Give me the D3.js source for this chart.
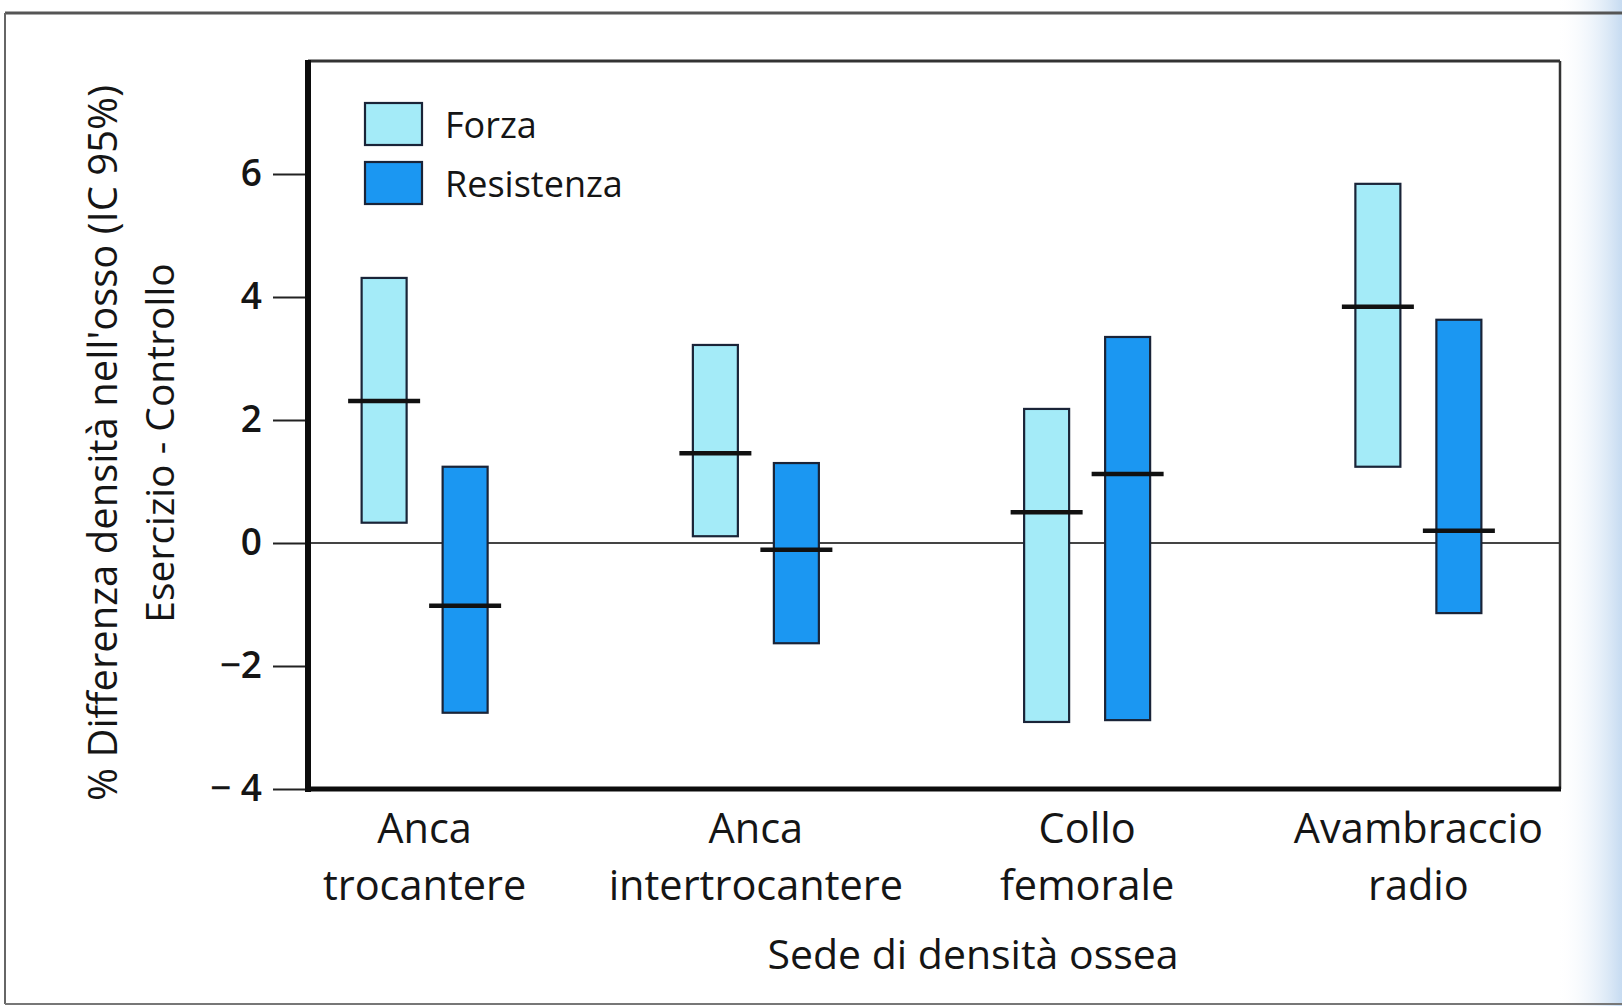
<!DOCTYPE html>
<html lang="it">
<head>
<meta charset="utf-8">
<title>Densità ossea: esercizio vs controllo</title>
<script src="https://cdn.jsdelivr.net/npm/d3@7"></script>
<style>
  html, body { margin: 0; padding: 0; background: #ffffff; }
  svg { display: block; }
  text { font-family: "Open Sans", "Lato", sans-serif; fill: #151515; font-weight: 500; }
</style>
</head>
<body>
<svg id="chart" width="1622" height="1006"></svg>
<script>
// Sedi di misura (due righe per etichetta)
const categories = ["trocantere", "intertrocantere", "collo", "radio"];
const categoryLine1 = ["Anca", "Anca", "Collo", "Avambraccio"];
const categoryLine2 = ["trocantere", "intertrocantere", "femorale", "radio"];

const seriesNames = ["Forza", "Resistenza"];

// Intervallo di confidenza al 95% e stima puntuale (% differenza)
const forzaLow  = [0.33, 0.11, -2.91, 1.24];
const forzaHigh = [4.31, 3.22, 2.18, 5.84];
const forzaMean = [2.31, 1.46, 0.50, 3.84];

const resistenzaLow  = [-2.76, -1.63, -2.88, -1.14];
const resistenzaHigh = [1.24, 1.30, 3.35, 3.63];
const resistenzaMean = [-1.02, -0.11, 1.12, 0.20];

const yTickValues = [6, 4, 2, 0, -2, -4];
const yTickLabels = ["6", "4", "2", "0", "\u22122", "\u2212 4"];

const colors = { "Forza": "#a4ebf8", "Resistenza": "#1b97f2" };

// Tabella delle barre costruita dagli array
const bars = [];
categories.forEach((c, i) => {
  bars.push({ cat: c, series: "Forza", low: forzaLow[i], high: forzaHigh[i], mean: forzaMean[i] });
  bars.push({ cat: c, series: "Resistenza", low: resistenzaLow[i], high: resistenzaHigh[i], mean: resistenzaMean[i] });
});

const svg = d3.select("#chart");

// Cornice esterna della pagina e sfumatura sul bordo destro
const defs = svg.append("defs");
const grad = defs.append("linearGradient").attr("id", "edgeFade")
  .attr("x1", "0%").attr("x2", "100%").attr("y1", "0%").attr("y2", "0%");
grad.append("stop").attr("offset", "0%").attr("stop-color", "#ffffff").attr("stop-opacity", 0);
grad.append("stop").attr("offset", "100%").attr("stop-color", "#c6dbf1").attr("stop-opacity", 1);

svg.append("rect").attr("x", 1556).attr("y", 0).attr("width", 66).attr("height", 1006)
  .attr("fill", "url(#edgeFade)");
svg.append("line").attr("x1", 5).attr("x2", 1622).attr("y1", 13).attr("y2", 13)
  .attr("stroke", "#555").attr("stroke-width", 3);
svg.append("line").attr("x1", 5).attr("x2", 5).attr("y1", 13).attr("y2", 1004)
  .attr("stroke", "#666").attr("stroke-width", 2);
svg.append("line").attr("x1", 5).attr("x2", 1622).attr("y1", 1004).attr("y2", 1004)
  .attr("stroke", "#777").attr("stroke-width", 2);

// Area del grafico
const plot = { left: 308, right: 1560, top: 61, bottom: 789 };

const y = d3.scaleLinear().domain([-4, 6]).range([789, 174]);
const x = d3.scaleBand().domain(categories).range([259, 1584]).paddingInner(0).paddingOuter(0);
const xs = d3.scalePoint().domain(seriesNames).range([-40.5, 40.5]);
const barWidth = 45;
const meanHalf = 36;

svg.append("rect")
  .attr("x", plot.left).attr("y", plot.top)
  .attr("width", plot.right - plot.left).attr("height", plot.bottom - plot.top)
  .attr("fill", "#ffffff");

// Asse y con tacche esterne
const yAxis = d3.axisLeft(y)
  .tickValues(yTickValues)
  .tickSize(35)
  .tickPadding(11)
  .tickFormat((d, i) => yTickLabels[i]);

const gy = svg.append("g").attr("transform", `translate(${plot.left},0)`).call(yAxis);
gy.select(".domain").remove();
gy.selectAll(".tick line").attr("stroke", "#222").attr("stroke-width", 2);
gy.selectAll(".tick text")
  .style("font-family", "'Open Sans', sans-serif")
  .style("font-size", "37px")
  .style("font-weight", "600")
  .attr("fill", "#151515");

// Linea dello zero attraverso il grafico
svg.append("line")
  .attr("x1", plot.left).attr("x2", plot.right)
  .attr("y1", y(0)).attr("y2", y(0))
  .attr("stroke", "#444").attr("stroke-width", 2);

// Barre degli intervalli di confidenza
const gBars = svg.append("g");
gBars.selectAll("rect.ci")
  .data(bars)
  .join("rect")
  .attr("class", "ci")
  .attr("x", d => x(d.cat) + x.bandwidth() / 2 + xs(d.series) - barWidth / 2)
  .attr("y", d => y(d.high))
  .attr("width", barWidth)
  .attr("height", d => y(d.low) - y(d.high))
  .attr("fill", d => colors[d.series])
  .attr("stroke", "#1a2438")
  .attr("stroke-width", 2.2);

// Stime puntuali
gBars.selectAll("line.mean")
  .data(bars)
  .join("line")
  .attr("class", "mean")
  .attr("x1", d => x(d.cat) + x.bandwidth() / 2 + xs(d.series) - meanHalf)
  .attr("x2", d => x(d.cat) + x.bandwidth() / 2 + xs(d.series) + meanHalf)
  .attr("y1", d => y(d.mean))
  .attr("y2", d => y(d.mean))
  .attr("stroke", "#111")
  .attr("stroke-width", 4.5);

// Bordi del riquadro
svg.append("line").attr("x1", plot.left).attr("x2", plot.right).attr("y1", plot.top).attr("y2", plot.top)
  .attr("stroke", "#333").attr("stroke-width", 3);
svg.append("line").attr("x1", plot.right).attr("x2", plot.right).attr("y1", plot.top).attr("y2", plot.bottom)
  .attr("stroke", "#333").attr("stroke-width", 2.5);
svg.append("line").attr("x1", plot.left).attr("x2", plot.left).attr("y1", plot.top - 1).attr("y2", plot.bottom + 3)
  .attr("stroke", "#0c0c0c").attr("stroke-width", 6);
svg.append("line").attr("x1", plot.left - 3).attr("x2", plot.right + 1).attr("y1", plot.bottom).attr("y2", plot.bottom)
  .attr("stroke", "#0c0c0c").attr("stroke-width", 5);

// Etichette delle categorie
const catLabels = svg.append("g");
categories.forEach((c, i) => {
  const cx = x(c) + x.bandwidth() / 2;
  const t = catLabels.append("text")
    .attr("text-anchor", "middle")
    .style("font-size", "41.5px");
  t.append("tspan").attr("x", cx).attr("y", 843).text(categoryLine1[i]);
  t.append("tspan").attr("x", cx).attr("y", 900).text(categoryLine2[i]);
});

// Titolo asse x
svg.append("text")
  .attr("x", 973).attr("y", 969)
  .attr("text-anchor", "middle")
  .style("font-size", "41px")
  .text("Sede di densità ossea");

// Titolo asse y su due righe
svg.append("text")
  .attr("transform", "translate(117,443) rotate(-90)")
  .attr("text-anchor", "middle")
  .style("font-size", "40px")
  .text("% Differenza densità nell'osso (IC 95%)");
svg.append("text")
  .attr("transform", "translate(174,443) rotate(-90)")
  .attr("text-anchor", "middle")
  .style("font-size", "39px")
  .text("Esercizio - Controllo");

// Legenda
const legend = svg.append("g").attr("transform", "translate(365,103)");
seriesNames.forEach((s, i) => {
  const g = legend.append("g").attr("transform", `translate(0,${i * 59})`);
  g.append("rect").attr("x", 0).attr("y", 0).attr("width", 57).attr("height", 42)
    .attr("fill", colors[s]).attr("stroke", "#1a2438").attr("stroke-width", 2.2);
  g.append("text").attr("x", 80).attr("y", 35).style("font-size", "36px").text(s);
});
</script>
</body>
</html>
